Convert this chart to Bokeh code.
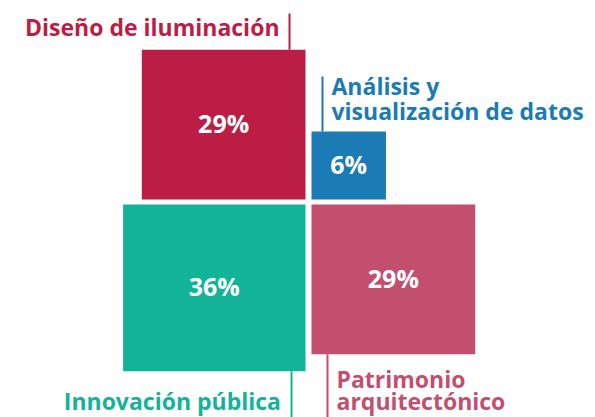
from bokeh.plotting import figure
from bokeh.models import Range1d, ColumnDataSource
from bokeh.core.properties import value
from bokeh.embed import file_html
from bokeh.resources import INLINE
import numpy as np

# ---- data ----
categories = ["Diseño de iluminación", "Análisis y\nvisualización de datos",
              "Innovación pública", "Patrimonio\narquitectónico"]
percents = [29, 6, 36, 29]
pct_labels = ["29%", "6%", "36%", "29%"]
colors = ["#BC1D45", "#1A7BB5", "#13B398", "#C34F6F"]

# ---- layout constants (pixels) ----
W, H = 595, 417
cx, cy = 308.0, 201.5      # centre of the cross
gx, gy = 3.0, 2.5          # half gaps
kx, ky = 30.4, 27.8        # px per sqrt(percent)
FONT = "Open Sans"

v = np.array(percents, dtype=float)
sx = np.sqrt(v) * kx
sy = np.sqrt(v) * ky
# quadrant signs: TL, TR, BL, BR  (y grows downward)
qx = np.array([-1, 1, -1, 1])
qy = np.array([-1, -1, 1, 1])
inner_x = cx + qx * gx
inner_y = cy + qy * gy
outer_x = inner_x + qx * sx
outer_y = inner_y + qy * sy
left = np.minimum(inner_x, outer_x)
right = np.maximum(inner_x, outer_x)
top = np.minimum(inner_y, outer_y)
bottom = np.maximum(inner_y, outer_y)

p = figure(width=W, height=H, x_range=Range1d(0, W), y_range=Range1d(H, 0),
           output_backend="svg", toolbar_location=None, min_border=0,
           border_fill_color="white", background_fill_color="white")
p.axis.visible = False
p.grid.visible = False
p.outline_line_color = None

src = ColumnDataSource(dict(left=left, right=right, top=top, bottom=bottom,
                            color=colors, lab=pct_labels,
                            mx=(left + right) / 2, my=(top + bottom) / 2 - 1.5))
p.quad(left="left", right="right", top="top", bottom="bottom", source=src,
       fill_color="color", line_color=None)
p.text(x="mx", y="my", text="lab", source=src, text_color="white",
       text_font=value(FONT), text_font_style="bold", text_font_size="25px",
       text_align="center", text_baseline="middle")

# leader lines
lead_off = [-16, 11, -14, 16]
lead_x = [right[0] + lead_off[0], left[1] + lead_off[1],
          right[2] + lead_off[2], left[3] + lead_off[3]]
lead_y0 = [top[0], top[1], bottom[2], bottom[3]]
lead_y1 = [13, 76, H, H]
p.segment(x0=lead_x, y0=lead_y0, x1=lead_x, y1=lead_y1, line_color=colors,
          line_width=2)

# category labels (y = top of the first line's em box)
tx, ty, align = [], [], []
texts, tcols = [], []
specs = [  # (x anchor, first line top, align, line step)
    (lead_x[0] - 10, 10, "right", 26),
    (lead_x[1] + 9, 69.5, "left", 25),
    (lead_x[2] - 10.5, 384.5, "right", 26),
    (lead_x[3] + 9, 362, "left", 22.5),
]
for i, (ax, by, al, step) in enumerate(specs):
    for j, line in enumerate(categories[i].split("\n")):
        tx.append(ax); ty.append(by + j * step); align.append(al)
        texts.append(line); tcols.append(colors[i])
tsrc = ColumnDataSource(dict(x=tx, y=ty, t=texts, c=tcols, a=align))
p.text(x="x", y="y", text="t", source=tsrc, text_color="c", text_align="a",
       text_baseline="top", text_font=value(FONT),
       text_font_style="bold", text_font_size="23px")

open("out.html", "w").write(file_html(p, INLINE))
